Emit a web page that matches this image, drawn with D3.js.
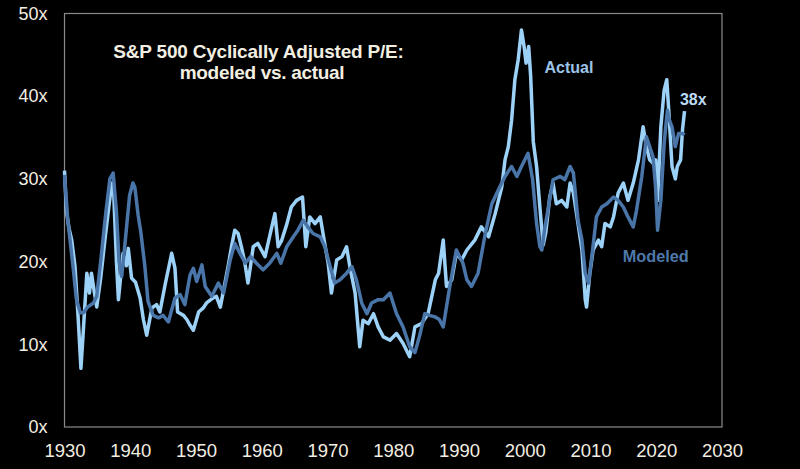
<!DOCTYPE html>
<html>
<head>
<meta charset="utf-8">
<script src="https://cdn.jsdelivr.net/npm/d3@7"></script>
<style>
  html, body { margin: 0; padding: 0; background: #000; }
  svg { display: block; }
</style>
</head>
<body>
<svg id="chart" width="800" height="469"></svg>
<script>
// ---- Data ----
const titleLines = ["S&P 500 Cyclically Adjusted P/E:", "modeled vs. actual"];
const xTicks = [1930, 1940, 1950, 1960, 1970, 1980, 1990, 2000, 2010, 2020, 2030];
const yTicks = [0, 10, 20, 30, 40, 50];

const actualDates = [1930.0,1930.3,1930.7,1931.1,1931.6,1932.1,1932.5,1932.9,1933.2,1933.4,1933.8,1934.1,1934.5,1934.9,1935.5,1936.2,1936.8,1937.2,1937.5,1937.9,1938.2,1938.9,1939.4,1939.7,1940.2,1940.8,1941.5,1942.0,1942.5,1943.3,1944.0,1944.5,1945.3,1946.3,1946.8,1947.2,1948.1,1948.6,1949.1,1949.6,1950.4,1951.1,1951.6,1952.4,1953.1,1953.7,1954.4,1954.9,1955.4,1955.9,1956.4,1956.9,1957.4,1957.9,1958.3,1958.7,1959.4,1960.5,1961.3,1962.0,1962.5,1963.0,1963.8,1964.5,1965.3,1966.2,1966.7,1967.3,1968.1,1968.9,1969.4,1970.1,1970.6,1971.4,1972.2,1972.9,1973.4,1974.2,1974.9,1975.4,1976.2,1977.0,1977.7,1978.5,1979.5,1980.5,1981.5,1982.5,1983.3,1984.3,1985.3,1986.4,1986.9,1987.6,1988.1,1988.9,1989.6,1990.4,1991.2,1992.4,1993.4,1994.5,1995.5,1996.5,1997.0,1997.5,1998.0,1998.5,1999.0,1999.5,1999.9,2000.2,2000.6,2000.9,2001.3,2001.8,2002.3,2002.8,2003.2,2003.8,2004.3,2004.8,2005.6,2006.4,2006.9,2007.4,2008.1,2008.7,2009.2,2009.4,2009.9,2010.4,2011.2,2011.7,2012.2,2013.0,2013.5,2014.2,2015.0,2015.7,2016.5,2017.3,2018.0,2018.5,2019.0,2019.5,2019.9,2020.2,2020.7,2021.2,2021.6,2021.9,2022.4,2022.9,2023.2,2023.7,2024.0,2024.3];
const actualPE = [31,26,24,22.6,19.4,12.9,7.1,12.1,16,18.6,16.2,18.6,16.5,14.5,18,23,27,29.5,28,20,15.4,21,19.5,21.6,18,17.5,15.6,13,11.1,14.4,14.8,13.9,17.2,21,19.2,13.9,13.5,13,12.3,11.7,13.9,14.4,15,15.5,15.8,14.5,17.4,19.5,21.8,23.8,23.4,21.8,20,17.4,19.5,21.8,22.2,20.6,23.4,25.8,21.8,22.5,24.5,26.6,27.4,27.8,21.8,25.4,24.6,25.4,23,19.8,16.2,20.2,20.6,21.8,19.4,16.2,9.7,12.9,12.5,13.7,12.1,10.9,10.5,11.3,10.1,8.5,12.1,12.5,13.7,17.8,18.6,22.6,17,17.8,21,20.2,21.4,22.6,24.2,23,25.8,29,32.3,33.9,37.1,42,44.4,48,46,44,46,42.4,34.5,31.5,26.6,22,23.5,27.8,29.5,27,27.4,26.6,29.5,28.3,24.6,21.4,15.4,14.5,18.6,21.4,22.6,21.8,24.6,24.2,25.4,28.3,29.5,27.4,29.5,32.3,36.3,33.9,32.3,31.9,32.3,27.4,36.3,40.7,42,38.3,31.5,30,31.5,32.3,36,38.2];

const modeledDates = [1930.0,1930.5,1931.3,1931.8,1932.4,1932.9,1933.5,1934.4,1934.9,1935.5,1936.3,1936.9,1937.4,1937.9,1938.3,1938.7,1939.3,1939.9,1940.4,1940.7,1941.2,1941.6,1942.2,1942.7,1943.5,1944.3,1945.0,1945.8,1946.8,1947.6,1948.3,1949.1,1949.6,1950.1,1950.9,1951.4,1952.4,1953.4,1954.2,1955.2,1955.9,1956.7,1957.5,1958.3,1959.2,1960.2,1961.2,1962.3,1962.9,1963.8,1964.8,1965.5,1966.3,1967.0,1967.8,1968.9,1969.6,1970.4,1971.1,1971.9,1972.9,1973.7,1974.4,1975.2,1976.0,1976.7,1977.7,1978.5,1979.5,1980.5,1981.5,1982.5,1983.3,1984.0,1984.8,1985.5,1986.4,1987.0,1987.6,1988.6,1989.6,1990.6,1991.2,1991.9,1992.9,1994.0,1995.0,1996.0,1997.0,1998.0,1998.8,1999.5,2000.5,2001.2,2001.8,2002.3,2002.6,2003.0,2003.6,2004.3,2005.4,2006.1,2006.9,2007.4,2008.1,2008.7,2009.2,2009.7,2010.2,2010.9,2011.7,2012.5,2013.5,2014.2,2015.0,2015.7,2016.5,2017.0,2017.8,2018.5,2019.0,2019.5,2019.9,2020.2,2020.7,2021.2,2021.7,2022.0,2022.4,2022.9,2023.4,2024.0,2024.3];
const modeledPE = [30.5,25,19.4,15.5,13.8,13.8,14.5,15,15.8,20,26,30,30.7,26,20,18.2,23,28,29.5,29,25.6,23.6,19.6,15.2,13.5,13.2,13.5,12.7,15.6,16,14.8,18.4,19.2,17.6,19.6,17,15.8,17.4,16.2,20.2,22.2,21,19.8,20.6,19.8,19,19.8,21,19.8,21.8,23,23.8,25,24.2,23.4,23,21.8,19.4,17.4,17.8,18.6,19.4,17.8,15,13.7,15,15.4,15.4,16.2,13.7,12.1,9.7,9,11,13.7,13.5,13.3,13,12.1,17,21.4,19.8,17.8,17,18.6,23.4,27,28.7,30.3,31.5,30.3,31.5,33.1,29.9,24.6,21.8,21.4,23.8,26.6,29.9,30.3,29.9,31.5,30.7,25,22.6,18.6,17.4,20.6,25.4,26.6,27,27.8,27.4,26.6,25.4,24.2,26.2,30.3,35.1,33.9,32.7,29,23.8,27.4,34.3,38.3,37.1,36.3,33.9,35.5,35.5,35.3];

const seriesNames = ["Actual", "Modeled"];
const endLabel = "38x";

// ---- Drawing ----
const svg = d3.select("#chart");
const plot = {left: 64.5, right: 722, top: 13.5, bottom: 427};

const x = d3.scaleLinear().domain([1930, 2030]).range([plot.left, plot.right]);
const y = d3.scaleLinear().domain([0, 50]).range([plot.bottom, plot.top]);

svg.append("rect").attr("width", 800).attr("height", 469).attr("fill", "#000");

// frame
svg.append("rect")
  .attr("x", plot.left).attr("y", plot.top)
  .attr("width", plot.right - plot.left).attr("height", plot.bottom - plot.top)
  .attr("fill", "none").attr("stroke", "#8a8a8a").attr("stroke-width", 1.2);

const labelColor = "#f3eee2";
const font = "Liberation Sans, Arial, sans-serif";

const yAxis = svg.append("g")
  .attr("transform", `translate(${plot.left},0)`)
  .call(d3.axisLeft(y).tickValues(yTicks).tickSize(0).tickPadding(17).tickFormat(d => d + "x"));
yAxis.select(".domain").remove();
yAxis.selectAll("text").attr("fill", labelColor).attr("font-size", 18).attr("font-family", font);

const xAxis = svg.append("g")
  .attr("transform", `translate(0,${plot.bottom})`)
  .call(d3.axisBottom(x).tickValues(xTicks).tickSize(0).tickPadding(17).tickFormat(d3.format("d")));
xAxis.select(".domain").remove();
xAxis.selectAll("text").attr("fill", labelColor).attr("font-size", 18.5).attr("font-family", font);

const lightBlue = "#9dd2f8";
const darkBlue = "#4a75a8";

const line = d3.line().x(d => x(d[0])).y(d => y(d[1]));

const actualData = d3.zip(actualDates, actualPE);
const modeledData = d3.zip(modeledDates, modeledPE);

svg.append("path").datum(actualData)
  .attr("d", line).attr("fill", "none")
  .attr("stroke", lightBlue).attr("stroke-width", 3.5).attr("stroke-linejoin", "round");

svg.append("path").datum(modeledData)
  .attr("d", line).attr("fill", "none")
  .attr("stroke", darkBlue).attr("stroke-width", 3.5).attr("stroke-linejoin", "round");

// title
svg.append("text").attr("x", 258.5).attr("y", 58)
  .attr("text-anchor", "middle").attr("fill", labelColor)
  .attr("font-family", font).attr("font-weight", "bold").attr("font-size", 19)
  .attr("letter-spacing", -0.2)
  .text(titleLines[0]);
svg.append("text").attr("x", 262).attr("y", 79)
  .attr("text-anchor", "middle").attr("fill", labelColor)
  .attr("font-family", font).attr("font-weight", "bold").attr("font-size", 19)
  .attr("letter-spacing", -0.3)
  .text(titleLines[1]);

// series labels
svg.append("text").attr("x", x(2003.0)).attr("y", 72.5)
  .attr("fill", "#9cc4e8").attr("font-family", font).attr("font-weight", "bold").attr("font-size", 16)
  .text(seriesNames[0]);
svg.append("text").attr("x", x(2014.9)).attr("y", 262)
  .attr("fill", "#4f79aa").attr("font-family", font).attr("font-weight", "bold").attr("font-size", 16.3)
  .text(seriesNames[1]);
svg.append("text").attr("x", x(2023.6)).attr("y", 105)
  .attr("fill", "#bcdaf3").attr("font-family", font).attr("font-weight", "bold").attr("font-size", 16)
  .text(endLabel);
</script>
</body>
</html>
